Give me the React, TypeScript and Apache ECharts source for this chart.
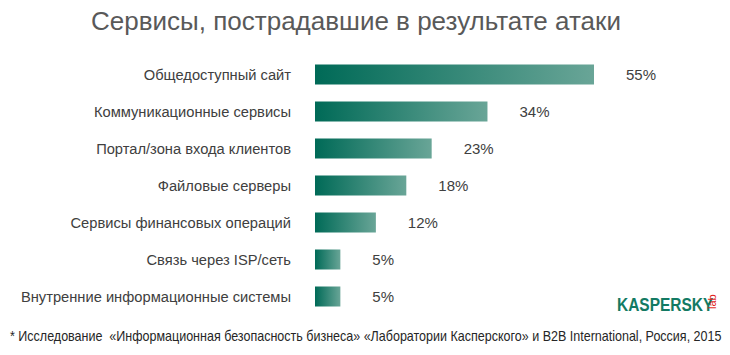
import React, { useEffect, useRef } from "react";
import * as echarts from "echarts";

const titleText = "Сервисы, пострадавшие в результате атаки";
const categories = [
  "Общедоступный сайт",
  "Коммуникационные сервисы",
  "Портал/зона входа клиентов",
  "Файловые серверы",
  "Сервисы финансовых операций",
  "Связь через ISP/сеть",
  "Внутренние информационные системы",
];
const values = [55, 34, 23, 18, 12, 5, 5];
const footnote =
  "* Исследование  «Информационная безопасность бизнеса» «Лаборатории Касперского» и B2B International, Россия, 2015";

const FONT = "'Liberation Sans', Arial, sans-serif";

export default function App() {
  const ref = useRef<HTMLDivElement>(null);
  useEffect(() => {
    if (!ref.current) return;
    const chart = echarts.init(ref.current, null, { renderer: "svg" });
    chart.setOption({
      animation: false,
      backgroundColor: "#ffffff",
      title: {
        text: titleText,
        left: 351,
        textAlign: "center",
        top: 3,
        textStyle: { fontFamily: FONT, fontSize: 26, fontWeight: "normal", color: "#595959" },
      },
      grid: { left: 315, right: 136, top: 56, bottom: 40, containLabel: false },
      xAxis: {
        type: "value",
        min: 0,
        max: 55,
        show: false,
      },
      yAxis: {
        type: "category",
        data: categories,
        inverse: true,
        axisLine: { show: false },
        axisTick: { show: false },
        axisLabel: { margin: 24, fontFamily: FONT, fontSize: 14.7, color: "#404040" },
      },
      series: [
        {
          type: "bar",
          data: values,
          barWidth: 20,
          itemStyle: {
            color: new echarts.graphic.LinearGradient(0, 0, 1, 0, [
              { offset: 0, color: "#006a57" },
              { offset: 1, color: "#69a597" },
            ]),
          },
          label: {
            show: true,
            position: "right",
            distance: 32,
            formatter: "{c}%",
            fontFamily: FONT,
            fontSize: 15,
            color: "#404040",
          },
        },
      ],
      graphic: [
        {
          type: "text",
          x: 10,
          y: 329,
          scaleX: 0.895,
          style: { text: footnote, font: `14px ${FONT}`, fill: "#262626" },
        },
        {
          type: "text",
          x: 617,
          y: 296,
          scaleX: 0.86,
          style: { text: "KASPERSKY", font: `bold 18px ${FONT}`, fill: "#137a63" },
        },
        {
          type: "text",
          x: 706,
          y: 309,
          rotation: Math.PI / 2,
          style: { text: "lab", font: `11px ${FONT}`, fill: "#e2231a", textAlign: "left", textVerticalAlign: "top" },
        },
      ],
    });
    return () => chart.dispose();
  }, []);
  return (
    <div
      ref={ref}
      style={{ position: "fixed", left: 0, top: 0, width: 730, height: 355 }}
    />
  );
}
